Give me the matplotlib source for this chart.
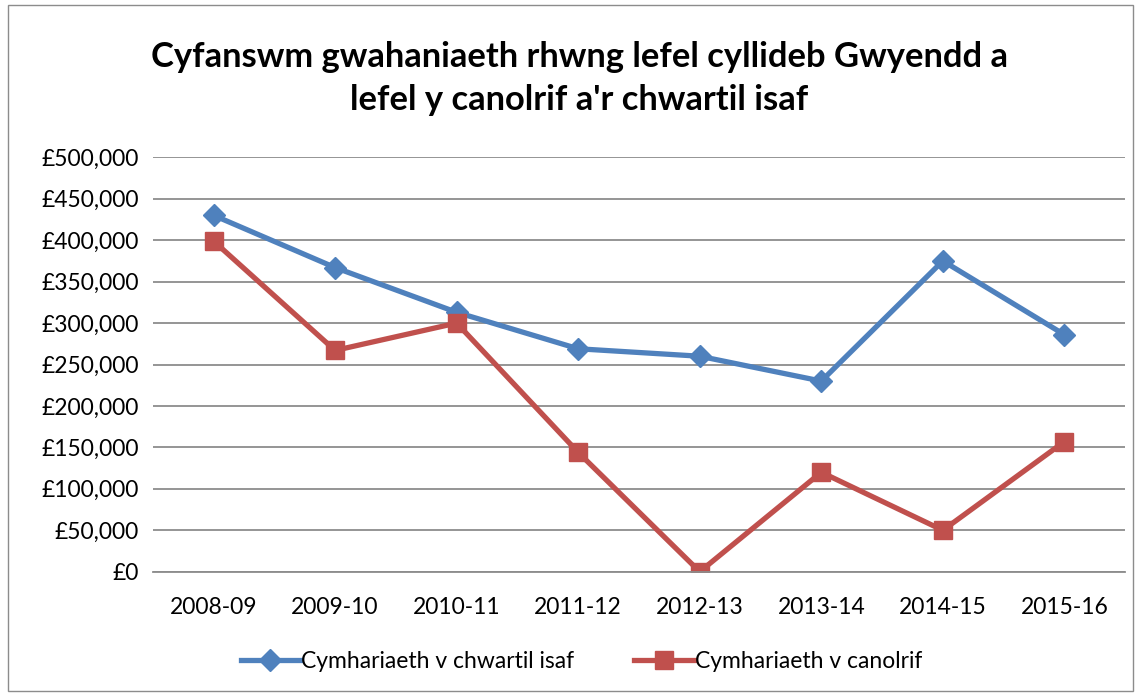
import numpy as np
import matplotlib.pyplot as plt
from matplotlib.patches import Rectangle

years = ['2008-09', '2009-10', '2010-11', '2011-12', '2012-13', '2013-14', '2014-15', '2015-16']
chwartil = [430000, 367000, 313000, 269000, 260000, 230000, 375000, 286000]
canolrif = [399000, 267000, 300000, 144000, 0, 120000, 50000, 157000]

plt.rcParams['font.family'] = ['Lato', 'DejaVu Sans']

fig = plt.figure(figsize=(11.4, 6.93), dpi=100)
fig.patches.append(Rectangle((0.007, 0.003), 0.987, 0.99, transform=fig.transFigure,
                             fill=False, edgecolor='#8c8c8c', linewidth=1))
ax = fig.add_axes([0.134, 0.175, 0.853, 0.598])

x = np.arange(len(years))
ax.plot(x, chwartil, color='#4F81BD', linewidth=3.8, marker='D', markersize=11,
        label='Cymhariaeth v chwartil isaf')
ax.plot(x, canolrif, color='#C0504D', linewidth=3.8, marker='s', markersize=13,
        label='Cymhariaeth v canolrif')

ax.set_xlim(-0.5, len(years) - 0.5)
ax.set_ylim(0, 500000)
ax.set_yticks(np.arange(0, 500001, 50000))
ax.set_yticklabels(['£{:,.0f}'.format(v) for v in np.arange(0, 500001, 50000)], fontsize=16.5)
ax.set_xticks(x)
ax.set_xticklabels(years, fontsize=16.5)
ax.tick_params(length=0, pad=18)
ax.tick_params(axis='y', pad=10)
ax.grid(axis='y', color='#8c8c8c', linewidth=1.3)
ax.set_axisbelow(True)
for s in ['top', 'right', 'left']:
    ax.spines[s].set_visible(False)
ax.spines['bottom'].set_color('#8c8c8c')
ax.spines['bottom'].set_linewidth(1.3)

fig.text(0.508, 0.887, "Cyfanswm gwahaniaeth rhwng lefel cyllideb Gwyendd a\nlefel y canolrif a'r chwartil isaf",
         ha='center', va='center', fontsize=24.8, fontweight='bold', linespacing=1.4)

fig.legend(loc='center', bbox_to_anchor=(0.51, 0.045), ncol=2, frameon=False, fontsize=16.5,
           handlelength=2.6, columnspacing=2.6, handletextpad=0.05)

fig.savefig('out.png', dpi=100)
